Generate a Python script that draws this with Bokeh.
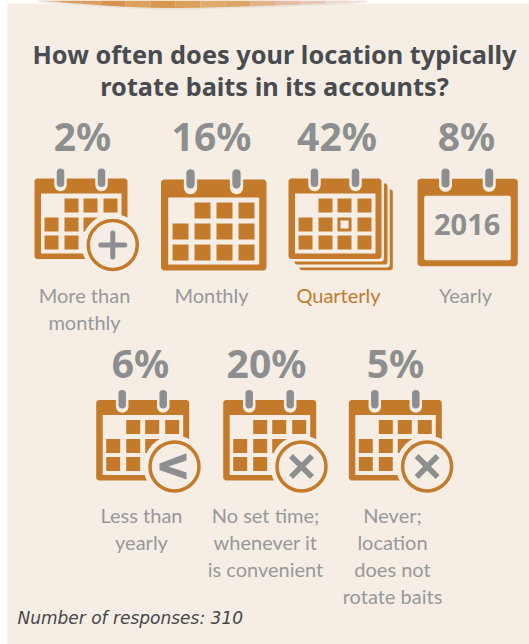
from bokeh.core.properties import value
from bokeh.embed import file_html
from bokeh.models import Range1d
from bokeh.plotting import figure
from bokeh.resources import INLINE
import math

# Survey results
percents = [2, 16, 42, 8, 6, 20, 5]
answers = [
    ["More than", "monthly"],
    ["Monthly"],
    ["Quarterly"],
    ["Yearly"],
    ["Less than", "yearly"],
    ["No set time;", "whenever it", "is convenient"],
    ["Never;", "location", "does not", "rotate baits"],
]
highlighted = "Quarterly"
title_lines = ["How often does your location typically", "rotate baits in its accounts?"]
footnote = "Number of responses: 310"
year_label = "2016"

PANEL = "#f6eee4"
ORANGE = "#c47a2b"
GREY = "#8c8e90"
LABEL_GREY = "#96989b"
DARK = "#484b4f"

W, H = 529, 644
p = figure(width=W, height=H, output_backend="svg", toolbar_location=None,
           x_range=Range1d(0, W), y_range=Range1d(H, 0), min_border=0)
p.axis.visible = False
p.grid.visible = False
p.outline_line_color = None
p.background_fill_color = "white"
p.border_fill_color = "white"


def label(x, base, text, size, color, font="Noto Sans", style="normal", align="center"):
    """Text placed by its baseline; the renderer sets glyphs about 0.38 em under the anchor."""
    p.text([x], [base - 0.38 * size], text=[text], text_font=value(font), text_font_style=style,
           text_font_size=f"{size}px", text_color=color, text_align=align, text_baseline="alphabetic")


def box(x0, y0, x1, y1, r=0.0, color=ORANGE):
    """Filled rectangle with optional rounded corners."""
    xs, ys = [], []
    corners = [(x1 - r, y0 + r, -90), (x1 - r, y1 - r, 0), (x0 + r, y1 - r, 90), (x0 + r, y0 + r, 180)]
    for cx, cy, start in corners:
        for k in range(7):
            a = math.radians(start + k * 15)
            xs.append(cx + r * math.cos(a))
            ys.append(cy + r * math.sin(a))
    p.patch(xs, ys, fill_color=color, line_color=None)


def rings(x0, top, offsets, width=7.5, bottom=11.5):
    for off in offsets:
        p.line([x0 + off] * 2, [top - 3, top + bottom - 5], line_width=width + 5,
               line_color=PANEL, line_cap="round")
        p.line([x0 + off] * 2, [top - 6.2, top + 4.8], line_width=width,
               line_color=GREY, line_cap="round")


def cells(x0, y0, cols, rows, size, marked=None):
    for r, ry in enumerate(rows):
        for c, cx in enumerate(cols):
            if r == 0 and c == 0:
                continue
            box(x0 + cx, y0 + ry, x0 + cx + size, y0 + ry + size)
            if marked == (r, c):
                box(x0 + cx + 3, y0 + ry + 3, x0 + cx + size - 3, y0 + ry + size - 3, color=PANEL)


SMALL_COLS, SMALL_ROWS = [10, 30, 49, 69], [20, 39, 57]


def small_calendar(x0, y0, marked=None):
    box(x0, y0, x0 + 93, y0 + 80.5, 3)
    box(x0 + 6.5, y0 + 15, x0 + 87, y0 + 75, color=PANEL)
    cells(x0, y0, SMALL_COLS, SMALL_ROWS, 14, marked)
    rings(x0, y0, [26, 67])


def badge(x0, y0):
    """Round badge over the calendar's lower right corner; returns its centre."""
    cx, cy = x0 + 78.3, y0 + 66.5
    p.circle([cx], [cy], radius=31, fill_color=PANEL, line_color=None)
    p.circle([cx], [cy], radius=24.5, fill_color=PANEL, line_color=ORANGE, line_width=3.5)
    return cx, cy


def plus(cx, cy):
    for dx, dy in [(12, 0), (0, 12)]:
        p.line([cx - dx, cx + dx], [cy - dy, cy + dy], line_width=5, line_color=GREY, line_cap="round")


def cross(cx, cy):
    for s in (1, -1):
        p.line([cx - 10.5, cx + 10.5], [cy - 10.5 * s, cy + 10.5 * s], line_width=5.5, line_color=GREY)


def less_than(cx, cy):
    xs = [12, -15, -15, 12, 12, -6, 12]
    ys = [-13.3, -3, 3.5, 13, 6, 0, -6]
    p.patch([cx + a for a in xs], [cy + b for b in ys], fill_color=GREY, line_color=None)


def plus_icon(x0, y0):
    small_calendar(x0, y0)
    plus(*badge(x0, y0))


def month_icon(x0, y0):
    box(x0, y0, x0 + 105.5, y0 + 91, 3.5)
    box(x0 + 7.2, y0 + 18, x0 + 98.2, y0 + 85, color=PANEL)
    cells(x0, y0, [11.5, 33.5, 55.5, 77.5], [23, 44, 65], 16)
    rings(x0, y0, [29.5, 75.5], width=8.3, bottom=13)


def stack_icon(x0, y0):
    box(x0 + 11, y0 + 11, x0 + 104.3, y0 + 91.7, 2.5)
    box(x0 + 4, y0 + 3, x0 + 101.3, y0 + 89, 3, color=PANEL)
    box(x0 + 6, y0 + 5, x0 + 99, y0 + 86, 2.5)
    box(x0 + 1, y0 + 1, x0 + 95.4, y0 + 83, 3, color=PANEL)
    small_calendar(x0, y0, marked=(1, 2))


def year_icon(x0, y0):
    box(x0, y0, x0 + 100.3, y0 + 87.5, 3.5)
    box(x0 + 6.7, y0 + 17, x0 + 93.3, y0 + 81.5, 2, color=PANEL)
    rings(x0, y0, [28, 71.7], width=8)
    label(x0 + 49.7, y0 + 57, year_label, 29, GREY, style="bold")


def less_icon(x0, y0):
    small_calendar(x0, y0)
    less_than(*badge(x0, y0))


def cross_icon(x0, y0):
    small_calendar(x0, y0)
    cross(*badge(x0, y0))


# Panel behind everything
box(7, 3, W + 2, H + 2, color=PANEL)

# Crust of the bait along the upper edge
crust_x = [38, 60, 80, 100, 125, 150, 175, 200, 225, 250, 275, 300, 325, 350, 366]
crust_y = [0, 1.7, 3.3, 4.8, 6.2, 7.2, 7.6, 7.2, 6.5, 5.7, 4.9, 4, 3, 1.6, 0]
crust_c = ["#e4b684", "#d99c5c", "#dba061", "#d6934f", "#dda15f", "#d7974f", "#dc9f5c", "#e0aa6c",
           "#dba468", "#e2b38a", "#e5bda5", "#e8c6b6", "#eed7cc", "#f3e6df"]
p.patch([crust_x[0]] + crust_x + [crust_x[-1]], [0] + [v + 1.6 for v in crust_y] + [0],
        fill_color="#ebe2d9", line_color=None)
for i, c in enumerate(crust_c):
    p.patch([crust_x[i], crust_x[i + 1], crust_x[i + 1], crust_x[i]],
            [0, 0, crust_y[i + 1], crust_y[i]], fill_color=c, line_color=None)

# Heading
for line, base in zip(title_lines, [63, 95]):
    label(274, base, line, 25.3, DARK, style="bold")

icons = [plus_icon, month_icon, stack_icon, year_icon, less_icon, cross_icon, cross_icon]
icon_x = [34, 160.5, 288, 417, 95.7, 222.7, 348.3]
icon_y = [178, 179, 178, 178.3, 399.5, 399.5, 399.5]
pct_x = [82, 211, 336.5, 466, 140, 266, 395]
pct_base = [150, 150, 150, 150, 377, 377, 377]
label_x = [84, 211, 338, 465, 141, 265, 392]
label_base = [302, 302, 302, 302, 522, 522, 522]

for i, pct in enumerate(percents):
    icons[i](icon_x[i], icon_y[i])
    label(pct_x[i], pct_base[i], f"{pct}%", 39, GREY, style="bold")
    color = ORANGE if answers[i][0] == highlighted else LABEL_GREY
    for j, line in enumerate(answers[i]):
        label(label_x[i], label_base[i] + j * 27, line, 20, color, font="Lato")

label(17, 624, footnote, 17, "#444648", font="DejaVu Sans", style="italic", align="left")

open("out.html", "w").write(file_html(p, INLINE))
